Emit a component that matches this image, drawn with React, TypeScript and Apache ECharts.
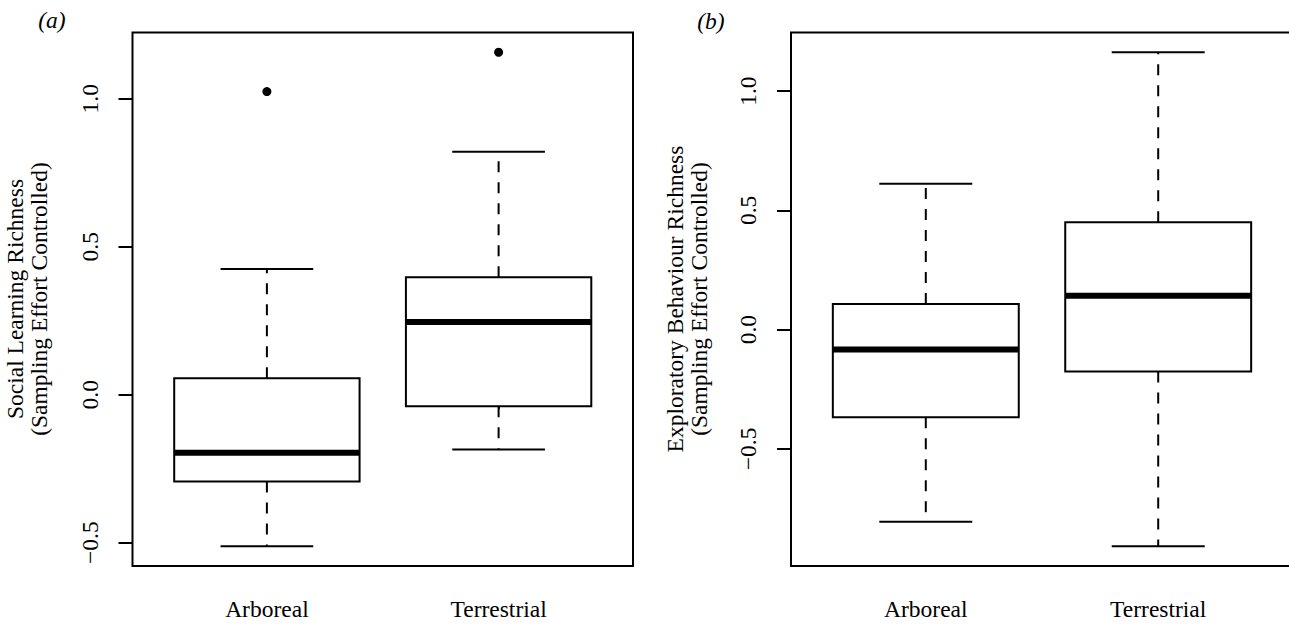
import React, { useEffect, useRef } from "react";
import * as echarts from "echarts";

const categories = ["Arboreal", "Terrestrial"];
const categoryPositions = [1, 2];
// [lower whisker, Q1, median, Q3, upper whisker]
const socialArboreal = [-0.512, -0.293, -0.196, 0.056, 0.425];
const socialTerrestrial = [-0.185, -0.039, 0.246, 0.397, 0.821];
const socialOutliers = [[1, 1.024], [2, 1.157]];
const exploreArboreal = [-0.805, -0.367, -0.083, 0.108, 0.612];
const exploreTerrestrial = [-0.908, -0.175, 0.142, 0.45, 1.163];
const exploreOutliers: number[][] = [];
const yTicks = [-0.5, 0, 0.5, 1.0];
const socialTitle = ["Social Learning Richness", "(Sampling Effort Controlled)"];
const exploreTitle = ["Exploratory Behaviour Richness", "(Sampling Effort Controlled)"];
const panelLabels = ["(a)", "(b)"];

const FONT = "Liberation Serif, serif";
const FS = 23.5;

function rangeOf(stats: number[][], outliers: number[][]) {
  const vals: number[] = [];
  stats.forEach((s) => vals.push(...s));
  outliers.forEach((o) => vals.push(o[1]));
  const lo = Math.min(...vals);
  const hi = Math.max(...vals);
  const pad = (hi - lo) * 0.04;
  return [lo - pad, hi + pad];
}

function fmt(v: number) {
  return (v < 0 ? "\u2212" : "") + Math.abs(v).toFixed(1);
}

function renderBox(params: any, api: any) {
  const x = api.value(0);
  const lo = api.value(1);
  const q1 = api.value(2);
  const med = api.value(3);
  const q3 = api.value(4);
  const hi = api.value(5);
  const c = api.coord([x, med]);
  const halfBox = api.size([0.4, 0])[0];
  const halfStaple = api.size([0.2, 0])[0];
  const yLo = api.coord([x, lo])[1];
  const yQ1 = api.coord([x, q1])[1];
  const yMed = c[1];
  const yQ3 = api.coord([x, q3])[1];
  const yHi = api.coord([x, hi])[1];
  const cx = c[0];
  const black = "#000";
  return {
    type: "group",
    children: [
      { type: "line", shape: { x1: cx, y1: yQ3, x2: cx, y2: yHi }, style: { stroke: black, lineWidth: 2, lineDash: [11, 10] } },
      { type: "line", shape: { x1: cx, y1: yQ1, x2: cx, y2: yLo }, style: { stroke: black, lineWidth: 2, lineDash: [11, 10] } },
      { type: "line", shape: { x1: cx - halfStaple, y1: yHi, x2: cx + halfStaple, y2: yHi }, style: { stroke: black, lineWidth: 2 } },
      { type: "line", shape: { x1: cx - halfStaple, y1: yLo, x2: cx + halfStaple, y2: yLo }, style: { stroke: black, lineWidth: 2 } },
      { type: "rect", shape: { x: cx - halfBox, y: yQ3, width: halfBox * 2, height: yQ1 - yQ3 }, style: { fill: "#fff", stroke: black, lineWidth: 2 } },
      { type: "line", shape: { x1: cx - halfBox, y1: yMed, x2: cx + halfBox, y2: yMed }, style: { stroke: black, lineWidth: 6 } },
    ],
  };
}

export default function App() {
  const ref = useRef<HTMLDivElement>(null);
  useEffect(() => {
    if (!ref.current) return;
    const chart = echarts.init(ref.current, null, { renderer: "svg" });
    const rA = rangeOf([socialArboreal, socialTerrestrial], socialOutliers);
    const rB = rangeOf([exploreArboreal, exploreTerrestrial], exploreOutliers);
    // panel (b) is cut by the right edge of the picture: its frame runs past the edge
    const plotW = 502;
    const widthB = 530;
    const grids = [
      { left: 132.5, top: 32.5, width: 500.5, height: 533.5 },
      { left: 791, top: 32.5, width: widthB, height: 533.5 },
    ];
    const xMaxes = [2.58, 0.42 + 2.16 * (widthB / plotW)];
    const xAxisCfg = (gi: number) => ({
      type: "value",
      gridIndex: gi,
      min: 0.42,
      max: xMaxes[gi],
      splitLine: { show: false },
      axisLine: { show: false },
      axisTick: { show: true, length: 14, lineStyle: { color: "#000", width: 2 }, customValues: categoryPositions },
      axisLabel: {
        show: true,
        customValues: categoryPositions,
        formatter: (v: number) => categories[Math.round(v) - 1] || "",
        color: "#000",
        fontFamily: FONT,
        fontSize: FS,
        margin: 31,
      },
    });
    const yAxisCfg = (gi: number, r: number[]) => ({
      type: "value",
      gridIndex: gi,
      min: r[0],
      max: r[1],
      splitLine: { show: false },
      axisLine: { show: false },
      axisTick: { show: true, length: 14, lineStyle: { color: "#000", width: 2 }, customValues: yTicks },
      axisLabel: {
        show: true,
        customValues: yTicks,
        rotate: 90,
        formatter: (v: number) => fmt(v),
        color: "#000",
        fontFamily: FONT,
        fontSize: FS,
        margin: 31,
      },
    });
    const textEl = (text: string, x: number, y: number, rot: number, italic = false) => ({
      type: "text",
      x,
      y,
      rotation: rot,
      style: {
        text,
        fill: "#000",
        fontFamily: FONT,
        fontSize: FS,
        fontStyle: italic ? "italic" : "normal",
        align: "center",
        verticalAlign: "middle",
      },
    });
    chart.setOption({
      animation: false,
      backgroundColor: "#fff",
      grid: grids.map((g) => ({
        ...g,
        outerBoundsMode: "none",
        containLabel: false,
        show: true,
        borderColor: "#000",
        borderWidth: 2,
        backgroundColor: "transparent",
      })),
      xAxis: [xAxisCfg(0), xAxisCfg(1)],
      yAxis: [yAxisCfg(0, rA), yAxisCfg(1, rB)],
      series: [
        {
          type: "custom",
          xAxisIndex: 0,
          yAxisIndex: 0,
          renderItem: renderBox,
          encode: { x: 0, y: [1, 2, 3, 4, 5] },
          data: [
            [categoryPositions[0], ...socialArboreal],
            [categoryPositions[1], ...socialTerrestrial],
          ],
        },
        {
          type: "scatter",
          xAxisIndex: 0,
          yAxisIndex: 0,
          symbol: "circle",
          symbolSize: 9,
          itemStyle: { color: "#000", opacity: 1 },
          data: socialOutliers,
        },
        {
          type: "custom",
          xAxisIndex: 1,
          yAxisIndex: 1,
          renderItem: renderBox,
          encode: { x: 0, y: [1, 2, 3, 4, 5] },
          data: [
            [categoryPositions[0], ...exploreArboreal],
            [categoryPositions[1], ...exploreTerrestrial],
          ],
        },
        {
          type: "scatter",
          xAxisIndex: 1,
          yAxisIndex: 1,
          symbol: "circle",
          symbolSize: 9,
          itemStyle: { color: "#000", opacity: 1 },
          data: exploreOutliers,
        },
      ],
      graphic: [
        textEl(socialTitle[0], 15, 299, Math.PI / 2),
        textEl(socialTitle[1], 39, 299, Math.PI / 2),
        textEl(exploreTitle[0], 675, 299, Math.PI / 2),
        textEl(exploreTitle[1], 699, 299, Math.PI / 2),
        textEl(panelLabels[0], 52, 20, 0, true),
        textEl(panelLabels[1], 711, 21, 0, true),
      ],
    });
    return () => chart.dispose();
  }, []);
  return <div ref={ref} style={{ position: "fixed", left: 0, top: 0, width: 1289, height: 624 }} />;
}
